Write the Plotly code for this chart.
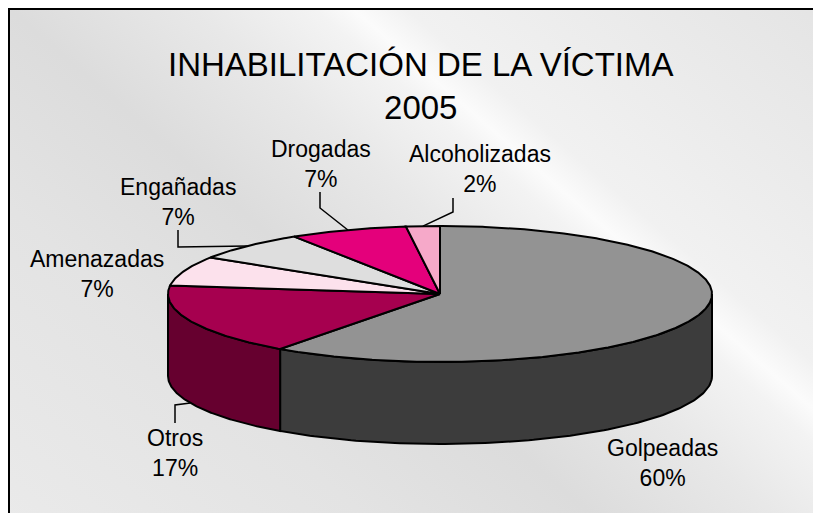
import base64
import numpy as np
import plotly.graph_objects as go

# ---------------- data ----------------
categories = ["Golpeadas", "Otros", "Amenazadas", "Engañadas", "Drogadas", "Alcoholizadas"]
values = [60, 17, 7, 7, 7, 2]
title_lines = ["INHABILITACIÓN DE LA VÍCTIMA", "2005"]

# ---------------- style / layout ----------------
WIN_W, WIN_H = 821, 513
OFF = 8  # default page margin of the HTML body
W, H = WIN_W - OFF, WIN_H - OFF
top_colors = ["#939393", "#A6004F", "#FCE1EC", "#DEDEDE", "#E4007B", "#F6A9C9"]
side_colors = ["#3C3C3C", "#66002F", "#D9B8C6", "#9A9A9A", "#8C004B", "#B57A92"]
CX, CY, RX, RY, DEPTH = 440, 294, 272, 68, 82
FONT = "Liberation Sans, Arial, Helvetica, sans-serif"

# label block centres (screen px)
label_pos = {
    "Golpeadas": (662, 463),
    "Otros": (175, 453),
    "Amenazadas": (97, 274),
    "Engañadas": (178, 202),
    "Drogadas": (321, 164),
    "Alcoholizadas": (480, 169),
}
# leader lines: start point and elbow y
leaders = {
    "Otros": (175, 423, 405),
    "Engañadas": (178, 230, 247),
    "Drogadas": (320, 192, 208),
    "Alcoholizadas": (453, 198, 212),
}


def pt(t_deg, dz=0.0):
    t = np.radians(t_deg)
    return CX + RX * np.sin(t), CY - RY * np.cos(t) + dz


def px(X):
    return (X - OFF) / W


def py(Y):
    return 1 - (Y - OFF) / H


total = float(sum(values))
spans = [360.0 * v / total for v in values]
starts = np.concatenate([[0.0], np.cumsum(spans)[:-1]])

fig = go.Figure()

# side walls (front half only)
for i, cat in enumerate(categories):
    t1, t2 = starts[i], starts[i] + spans[i]
    a, b = max(t1, 90.0), min(t2, 270.0)
    if a < b:
        ts = np.linspace(a, b, 120)
        xt, yt = pt(ts)
        xb, yb = pt(ts[::-1], DEPTH)
        xs = np.concatenate([xt, xb, xt[:1]])
        ys = np.concatenate([yt, yb, yt[:1]])
        fig.add_trace(go.Scatter(x=xs, y=ys, mode="lines", fill="toself",
                                 fillcolor=side_colors[i],
                                 line=dict(color="black", width=2),
                                 hoverinfo="skip", showlegend=False))

# top faces
for i, cat in enumerate(categories):
    t1, t2 = starts[i], starts[i] + spans[i]
    ts = np.linspace(t1, t2, max(10, int(spans[i] * 2)))
    xt, yt = pt(ts)
    xs = np.concatenate([[CX], xt, [CX]])
    ys = np.concatenate([[CY], yt, [CY]])
    fig.add_trace(go.Scatter(x=xs, y=ys, mode="lines", fill="toself",
                             fillcolor=top_colors[i],
                             line=dict(color="black", width=2),
                             hoverinfo="text",
                             text=f"{cat}: {values[i]}", showlegend=False))

# leader lines
for i, cat in enumerate(categories):
    if cat not in leaders:
        continue
    x0, y0, ye = leaders[cat]
    mid = starts[i] + spans[i] / 2
    front = 90 < mid < 270
    rx, ry = pt(mid, DEPTH if front else 0.0)
    fig.add_trace(go.Scatter(x=[x0, x0, rx], y=[y0, ye, ry], mode="lines",
                             line=dict(color="black", width=1.5),
                             hoverinfo="skip", showlegend=False))

# labels
annotations = []
for i, cat in enumerate(categories):
    pct = round(100 * values[i] / total)
    lx, ly = label_pos[cat]
    annotations.append(dict(x=lx, y=ly, xref="x", yref="y",
                            text=f"{cat}<br>{pct}%", showarrow=False,
                            xanchor="center", yanchor="middle",
                            font=dict(family=FONT, size=23, color="black")))
annotations.append(dict(x=421, y=86, xref="x", yref="y",
                        text="<br>".join(title_lines), showarrow=False,
                        xanchor="center", yanchor="middle",
                        font=dict(family=FONT, size=33, color="black")))

# background gradient (decorative), in image-local coordinates
IX, IY = 9, 9
IW, IH = WIN_W - IX, WIN_H - IY
u0, u1 = -390.0, 540.0
n = np.array([0.656, -0.755])
p1 = u0 * n - np.array([IX, IY])
p2 = u1 * n - np.array([IX, IY])
stops = [(-390, "#EAEAEA"), (-150, "#E3E3E3"), (0, "#DCDCDC"), (120, "#E8E8E8"),
         (200, "#F3F3F3"), (225, "#FBFBFB"), (260, "#F1F1F1"), (540, "#E4E4E4")]
stop_xml = "".join(f'<stop offset="{(u - u0) / (u1 - u0):.3f}" stop-color="{c}"/>' for u, c in stops)
svg = (f'<svg xmlns="http://www.w3.org/2000/svg" width="{IW}" height="{IH}" viewBox="0 0 {IW} {IH}" '
       f'preserveAspectRatio="none"><defs><linearGradient id="g" gradientUnits="userSpaceOnUse" '
       f'x1="{p1[0]:.1f}" y1="{p1[1]:.1f}" x2="{p2[0]:.1f}" y2="{p2[1]:.1f}">{stop_xml}</linearGradient>'
       f'</defs><rect width="{IW}" height="{IH}" fill="url(#g)"/></svg>')
src = "data:image/svg+xml;base64," + base64.b64encode(svg.encode()).decode()

fig.update_layout(
    width=W, height=H,
    margin=dict(l=0, r=0, t=0, b=0),
    paper_bgcolor="white", plot_bgcolor="rgba(0,0,0,0)",
    xaxis=dict(range=[OFF, WIN_W], visible=False, fixedrange=True),
    yaxis=dict(range=[WIN_H, OFF], visible=False, fixedrange=True),
    annotations=annotations,
    images=[dict(source=src, xref="paper", yref="paper",
                 x=px(IX), y=py(IY), sizex=IW / W, sizey=IH / H,
                 xanchor="left", yanchor="top", sizing="stretch", layer="below")],
    shapes=[dict(type="rect", xref="paper", yref="paper",
                 x0=px(IX), y0=-0.05, x1=1.05, y1=py(IY),
                 line=dict(color="black", width=2), fillcolor="rgba(0,0,0,0)")],
    showlegend=False,
)

fig.write_html("out.html")
